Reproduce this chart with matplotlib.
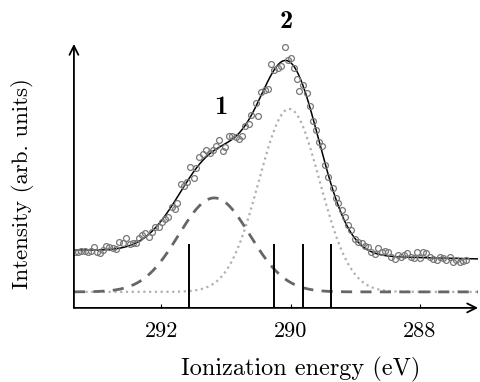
import numpy as np
import matplotlib
matplotlib.use("Agg")
import matplotlib.pyplot as plt

# measured points (energy in eV, intensity in arb. units)
energy = [293.34, 293.29, 293.24, 293.18, 293.13, 293.08, 293.04, 292.99, 292.94, 292.90,
          292.85, 292.80, 292.75, 292.70, 292.65, 292.59, 292.54, 292.49, 292.44, 292.39,
          292.35, 292.30, 292.25, 292.19, 292.14, 292.09, 292.04, 291.99, 291.94, 291.89,
          291.84, 291.79, 291.75, 291.70, 291.65, 291.60, 291.55, 291.50, 291.46, 291.41,
          291.35, 291.30, 291.25, 291.20, 291.15, 291.10, 291.05, 291.01, 290.95, 290.90,
          290.85, 290.80, 290.75, 290.70, 290.65, 290.61, 290.54, 290.50, 290.45, 290.40,
          290.35, 290.30, 290.25, 290.19, 290.14, 290.09, 290.04, 290.00, 289.95, 289.90,
          289.87, 289.81, 289.75, 289.70, 289.66, 289.61, 289.56, 289.51, 289.46, 289.42,
          289.35, 289.30, 289.26, 289.21, 289.16, 289.11, 289.06, 289.01, 288.95, 288.90,
          288.85, 288.80, 288.75, 288.70, 288.65, 288.59, 288.54, 288.49, 288.44, 288.39,
          288.34, 288.29, 288.24, 288.20, 288.14, 288.09, 288.05, 288.00, 287.95, 287.90,
          287.85, 287.79, 287.74, 287.69, 287.64, 287.59, 287.54, 287.49, 287.44, 287.38,
          287.33, 287.29]
intensity = [0.40, 0.40, 0.41, 0.41, 0.40, 0.41, 0.45, 0.40, 0.39, 0.42,
             0.46, 0.45, 0.44, 0.43, 0.50, 0.49, 0.54, 0.48, 0.49, 0.49,
             0.54, 0.57, 0.59, 0.55, 0.60, 0.65, 0.65, 0.70, 0.73, 0.75,
             0.85, 0.83, 0.89, 1.08, 1.06, 1.10, 1.25, 1.14, 1.24, 1.35,
             1.38, 1.42, 1.39, 1.42, 1.46, 1.52, 1.41, 1.45, 1.56, 1.56,
             1.55, 1.53, 1.56, 1.66, 1.68, 1.77, 1.89, 1.76, 2.00, 2.02,
             2.03, 2.28, 2.22, 2.24, 2.26, 2.45, 2.32, 2.34, 2.24, 2.13,
             2.01, 2.07, 1.99, 1.86, 1.71, 1.62, 1.50, 1.46, 1.27, 1.15,
             1.04, 0.94, 0.89, 0.82, 0.75, 0.67, 0.62, 0.53, 0.50, 0.49,
             0.46, 0.45, 0.40, 0.38, 0.44, 0.40, 0.41, 0.40, 0.35, 0.33,
             0.37, 0.35, 0.37, 0.39, 0.35, 0.34, 0.40, 0.34, 0.40, 0.39,
             0.35, 0.33, 0.32, 0.35, 0.34, 0.32, 0.35, 0.30, 0.32, 0.30,
             0.31, 0.32]

# fitted components: label, centre (eV), amplitude, sigma (eV)
peak_labels = ["1", "2"]
peak_centres = [291.18, 290.02]
peak_heights = [0.94, 1.83]
peak_sigmas = [0.55, 0.47]
label_pos = [(291.08, 1.84), (290.06, 2.70)]
bg_high, bg_low = 0.42, 0.33   # background at 293.35 eV and 287.1 eV

# positions of the vertical bars
bar_energies = [291.57, 290.25, 289.81, 289.38]
bar_top = 0.48

x_lo, x_hi = 293.35, 287.1
y_lo, y_hi = -0.16, 2.48

plt.rcParams['font.family'] = ['cmr10', 'DejaVu Serif']
plt.rcParams['font.size'] = 16

fig = plt.figure(figsize=(4.8, 3.82), dpi=100)
ax = fig.add_axes([0.154, 0.194, 0.842, 0.691])

E = np.linspace(x_lo, x_hi, 600)
g = [h * np.exp(-(E - c) ** 2 / (2 * s ** 2))
     for c, h, s in zip(peak_centres, peak_heights, peak_sigmas)]
bg = bg_high + (bg_low - bg_high) * (x_lo - E) / (x_lo - x_hi)
fit = bg + g[0] + g[1]

ax.plot(E, g[1], color='#b0b0b0', lw=1.6, ls=(0, (1, 1.6)))
ax.plot(E, g[0], color='#666666', lw=2, ls=(0, (4, 3)))
ax.vlines(bar_energies, y_lo, bar_top, color='black', lw=1.4)
ax.plot(E, fit, color='black', lw=1.1)
ax.plot(energy, intensity, 'o', mfc='none', mec='#777777', mew=0.9, ms=4.2)

for lab, (lx, ly) in zip(peak_labels, label_pos):
    ax.text(lx, ly, lab, ha='center', va='center', fontsize=19, family='cmb10')

ax.set_xlim(x_lo, x_hi)
ax.set_ylim(y_lo, y_hi)
for s in ax.spines.values():
    s.set_visible(False)
ax.annotate('', xy=(1.0, 0), xytext=(0, 0), xycoords='axes fraction',
            arrowprops=dict(arrowstyle='->', lw=1.3, color='black',
                            shrinkA=0, shrinkB=0))
ax.annotate('', xy=(0, 1.0), xytext=(0, 0), xycoords='axes fraction',
            arrowprops=dict(arrowstyle='->', lw=1.3, color='black',
                            shrinkA=0, shrinkB=0))
ax.set_xticks([292, 290, 288])
ax.set_yticks([])
ax.tick_params(axis='x', direction='in', length=3, width=0.8, pad=10)
ax.set_xlabel('Ionization energy (eV)', fontsize=17.5)
ax.set_ylabel('Intensity (arb. units)', fontsize=16.5)
ax.xaxis.set_label_coords(0.56, -0.186)
ax.yaxis.set_label_coords(-0.10, 0.47)

fig.savefig('out.png', dpi=100)
